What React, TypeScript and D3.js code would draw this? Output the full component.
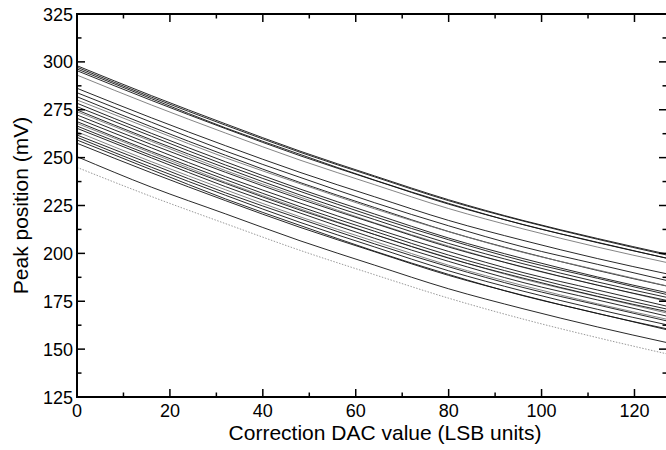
import React from "react";
import * as d3 from "d3";

const dacValues = [0, 16, 32, 48, 64, 80, 96, 112, 127];

const c01 = [298.0, 282.4, 267.6, 253.4, 240.5, 228.0, 217.2, 207.8, 199.6];
const c02 = [297.2, 281.6, 266.9, 252.8, 240.0, 227.5, 216.9, 207.4, 199.1];
const c03 = [296.3, 280.8, 265.5, 251.7, 238.3, 226.1, 215.0, 205.8, 197.4];
const c04 = [295.4, 279.9, 265.1, 251.0, 238.2, 225.7, 215.1, 205.6, 197.5];
const c05 = [293.1, 277.5, 262.8, 248.7, 235.9, 223.4, 212.8, 203.3, 195.2];
const c06 = [286.2, 270.8, 256.2, 242.3, 229.6, 217.2, 206.8, 197.3, 189.3];
const c07 = [283.9, 268.5, 253.4, 239.7, 226.5, 214.4, 203.4, 194.3, 185.8];
const c08 = [281.8, 266.1, 251.2, 237.0, 224.0, 211.4, 200.7, 191.1, 182.9];
const c09 = [280.1, 264.9, 249.9, 236.4, 223.3, 211.3, 200.5, 191.4, 183.0];
const c10 = [278.4, 262.7, 247.8, 233.6, 220.6, 208.0, 197.3, 187.7, 179.5];
const c11 = [276.6, 261.2, 246.1, 232.4, 219.2, 207.1, 196.1, 187.0, 178.5];
const c12 = [274.9, 259.3, 244.6, 230.5, 217.7, 205.2, 194.6, 185.1, 177.0];
const c13 = [274.0, 258.5, 243.2, 229.4, 216.0, 203.8, 192.7, 183.5, 174.9];
const c14 = [272.3, 256.9, 242.3, 228.4, 215.7, 203.3, 192.9, 183.4, 175.4];
const c15 = [270.5, 255.1, 240.0, 226.3, 213.1, 201.0, 190.0, 180.9, 172.4];
const c16 = [268.8, 253.2, 238.5, 224.4, 211.6, 199.1, 188.5, 179.0, 170.9];
const c17 = [267.9, 252.4, 237.1, 223.3, 209.9, 197.7, 186.6, 177.4, 168.8];
const c18 = [266.5, 251.1, 236.5, 222.6, 209.9, 197.5, 187.1, 177.6, 169.6];
const c19 = [265.3, 249.9, 234.8, 221.1, 207.9, 195.8, 184.8, 175.7, 167.2];
const c20 = [263.5, 247.9, 233.2, 219.1, 206.3, 193.8, 183.2, 173.7, 165.6];
const c21 = [261.8, 246.6, 231.6, 218.1, 205.0, 193.0, 182.2, 173.1, 164.7];
const c22 = [260.6, 245.0, 230.3, 216.2, 203.4, 190.9, 180.3, 170.8, 162.7];
const c23 = [259.2, 243.7, 228.4, 214.6, 201.2, 189.0, 177.9, 168.7, 160.1];
const c24 = [257.5, 242.1, 227.5, 213.6, 200.9, 188.5, 178.1, 168.6, 160.6];
const c25 = [250.5, 234.6, 220.6, 206.6, 193.9, 181.5, 171.1, 161.6, 153.4];
const c26 = [244.9, 229.7, 215.5, 201.6, 188.9, 176.6, 165.7, 156.0, 147.5];

const curves = [c01, c02, c03, c04, c05, c06, c07, c08, c09, c10, c11, c12, c13,
  c14, c15, c16, c17, c18, c19, c20, c21, c22, c23, c24, c25, c26];

// indices of lighter curves
const grayCurves = [4, 8, 12, 16, 19];
const dottedCurves = [25];

const xMajorTicks = [0, 20, 40, 60, 80, 100, 120];
const xMinorTicks = [10, 30, 50, 70, 90, 110];
const yMajorTicks = [125, 150, 175, 200, 225, 250, 275, 300, 325];
const yMinorTicks = [137.5, 162.5, 187.5, 212.5, 237.5, 262.5, 287.5, 312.5];

const W = 666, H = 450;
const L = 77, R = 667, T = 14, B = 397;
const FONT = "'Liberation Sans', Arial, Helvetica, sans-serif";

export default function App() {
  const x = d3.scaleLinear().domain([0, 127]).range([L, R]);
  const y = d3.scaleLinear().domain([125, 325]).range([B, T]);
  const line = d3.line<number>()
    .x((_, i) => x(dacValues[i]))
    .y((d) => y(d))
    .curve(d3.curveMonotoneX);

  const major = 8, minor = 4.5;
  return (
    <svg width={W} height={H} style={{ position: "absolute", left: 0, top: 0, background: "#fff" }}>
      <rect x={0} y={0} width={W} height={H} fill="#fff" />
      <g fill="none">
        {curves.map((c, i) => {
          const gray = grayCurves.includes(i);
          const dotted = dottedCurves.includes(i);
          return (
            <path key={i} d={line(c) || ""}
              stroke={dotted ? "#999" : gray ? "#777" : "#111"}
              strokeWidth={dotted ? 1 : 0.9}
              strokeDasharray={dotted ? "1.5,1.5" : undefined} />
          );
        })}
      </g>
      <g stroke="#000" strokeWidth={2} fill="none">
        <line x1={L} x2={L} y1={T} y2={B + 1} />
        <line x1={L - 1} x2={R} y1={B} y2={B} />
        <line x1={L - 1} x2={R} y1={T} y2={T} />
        <line x1={R} x2={R} y1={T} y2={B} />
      </g>
      <g stroke="#000" strokeWidth={1.5}>
        {xMajorTicks.map((t) => (
          <g key={"xm" + t}>
            <line x1={x(t)} x2={x(t)} y1={B} y2={B - major} />
            <line x1={x(t)} x2={x(t)} y1={T} y2={T + major} />
          </g>
        ))}
        {xMinorTicks.map((t) => (
          <g key={"xn" + t}>
            <line x1={x(t)} x2={x(t)} y1={B} y2={B - minor} />
            <line x1={x(t)} x2={x(t)} y1={T} y2={T + minor} />
          </g>
        ))}
        {yMajorTicks.map((t) => (
          <g key={"ym" + t}>
            <line x1={L} x2={L + major} y1={y(t)} y2={y(t)} />
            <line x1={R} x2={R - major} y1={y(t)} y2={y(t)} />
          </g>
        ))}
        {yMinorTicks.map((t) => (
          <g key={"yn" + t}>
            <line x1={L} x2={L + minor} y1={y(t)} y2={y(t)} />
            <line x1={R} x2={R - minor} y1={y(t)} y2={y(t)} />
          </g>
        ))}
      </g>
      <g fontFamily={FONT} fontSize={18} fill="#000">
        {xMajorTicks.map((t) => (
          <text key={"xl" + t} x={x(t)} y={417} textAnchor="middle">{t}</text>
        ))}
        {yMajorTicks.map((t) => (
          <text key={"yl" + t} x={73} y={y(t) + 6.5} textAnchor="end">{t}</text>
        ))}
      </g>
      <text x={385} y={440} fontFamily={FONT} fontSize={21} textAnchor="middle">
        Correction DAC value (LSB units)
      </text>
      <text transform={`translate(28,${(T + B) / 2}) rotate(-90)`} fontFamily={FONT} fontSize={21} textAnchor="middle">
        Peak position (mV)
      </text>
    </svg>
  );
}
